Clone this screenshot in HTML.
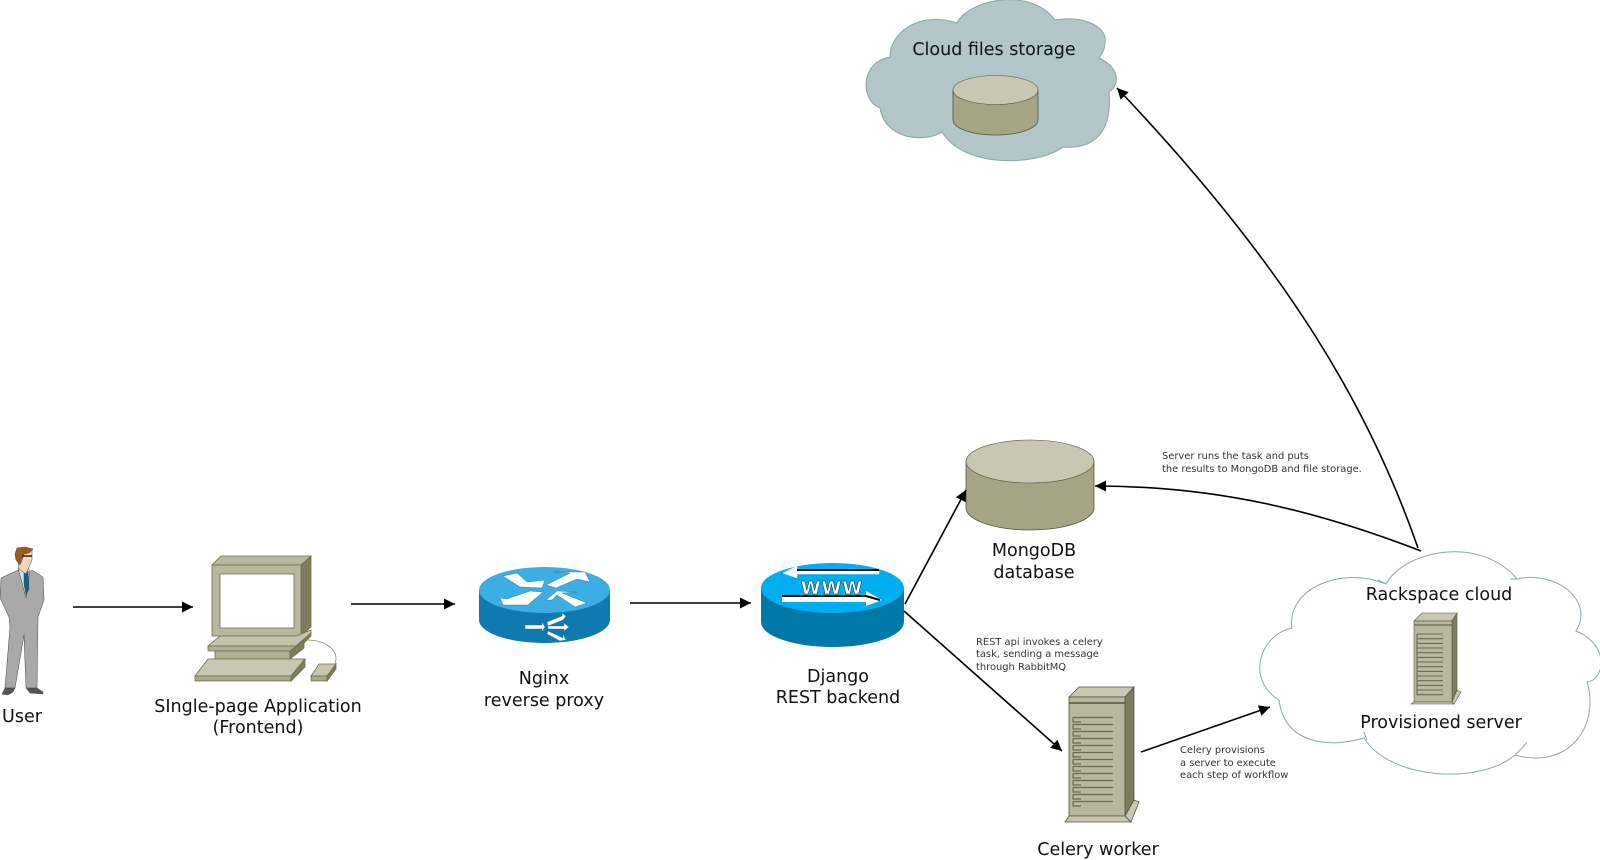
<!DOCTYPE html>
<html><head><meta charset="utf-8"><style>
html,body{margin:0;padding:0;background:#fff;width:1600px;height:860px;overflow:hidden}
svg{display:block}
text{font-family:"DejaVu Sans","Liberation Sans",sans-serif;fill:#111}
.l{font-size:17.5px;text-anchor:middle}
.s{font-size:9.9px;fill:#333}
.c{fill:none;stroke:#000;stroke-width:1.6}
</style></head><body>
<svg width="1600" height="860" viewBox="0 0 1600 860" xmlns="http://www.w3.org/2000/svg">
<defs>
<marker id="a" markerUnits="userSpaceOnUse" markerWidth="12" markerHeight="12" refX="11" refY="6" orient="auto"><path d="M0 .5L11 6L0 11.500z" fill="#000"/></marker>
</defs>

<!-- man -->
<g stroke="#444" stroke-width=".5">
<path d="M18 570L1 578L0 598L9 617L10 627L5 688H15L24 635L26 688H37L38 617L44 600L43 577L32 570L26 576Z" fill="#a9a9a9"/>
<path d="M18 568L26 598L30 570L26 566Z" fill="#cfe6f0"/>
<path d="M24 571H28L29 589L26 595L24 584Z" fill="#0b6485"/>
<path d="M17 555L19 569L26 574L29 567L32 560L32 550L20 552Z" fill="#f0d6b8"/>
<path d="M15 554L17 548L25 547L33 549L29 553L24 554L22 560L20 565L16 560Z" fill="#9a5a20"/>
<path d="M22 556H32" stroke="#222" stroke-width="1.500"/>
<path d="M2 694L5 688H15L13 692L8 695Z" fill="#555"/>
<path d="M26 688H37L43 692V694L30 693Z" fill="#555"/>
</g>
<text class="l" x="22" y="722">User</text>

<!-- computer -->
<g stroke="#6e6e52" stroke-width=".8">
<path d="M212 565L221 556H311L301 565Z" fill="#b8b89e"/>
<path d="M301 565L311 556V627L301 636Z" fill="#7d7d5e"/>
<rect x="212" y="565" width="89" height="71" fill="#b8b89e"/>
<rect x="220" y="574" width="74" height="54" fill="#fff"/>
<path d="M220 636H296L311 630V633L296 646H208Z" fill="#c4c4ac"/>
<path d="M208 646H296V651H208Z" fill="#b0b094"/>
<path d="M296 646L311 633V636L296 651Z" fill="#7d7d5e"/>
<rect x="215" y="651" width="75" height="8" fill="#b0b094"/>
<path d="M290 651L304 640V648L290 659Z" fill="#7d7d5e"/>
<path d="M195 676L208 659H305L291 676Z" fill="#c8c8b2"/>
<path d="M195 676H291V681H195Z" fill="#a9a98c"/>
<path d="M291 676L305 659V667L291 681Z" fill="#7d7d5e"/>
<path d="M311 676L319 664H336L327 676Z" fill="#c8c8b2"/>
<path d="M311 676H327V681H311Z" fill="#a9a98c"/>
<path d="M327 676L336 664V669L327 681Z" fill="#7d7d5e"/>
<path d="M307 640C325 640 340 650 335 664" fill="none" stroke="#8a8a70"/>
</g>
<text class="l" x="258" y="712">SIngle-page Application</text>
<text class="l" x="258" y="733">(Frontend)</text>

<!-- nginx router -->
<path d="M479 590V620A65.500 23 0 0 0 610 620V590Z" fill="#0f7ab0"/>
<ellipse cx="544.500" cy="590" rx="65.500" ry="23" fill="#3daee3"/>
<g fill="#fff" stroke="#1a6a90" stroke-width=".4">
<path d="M503 576L517 573L527 582L545 580L542 588L520 587Z"/>
<path d="M546 585L570 573L553 572L585 572L590 582L577 579L556 588Z"/>
<path d="M500 598L507 599L530 591L543 592L530 603L528 605L503 605Z"/>
<path d="M546 600L557 591L577 592L562 593L587 603L575 607L557 595L552 600Z"/>
<path d="M525 625H542V622L545 627L542 632V629H525Z"/>
<path d="M547 622L562 616V613L566 616L563 620L548 626Z"/>
<path d="M548 626H564V623L569 627L564 631V629H548Z"/>
<path d="M548 631L563 638V634L566 640L560 641L547 634Z"/>
</g>
<text class="l" x="544" y="684">Nginx</text>
<text class="l" x="544" y="706">reverse proxy</text>

<!-- django router -->
<path d="M761 588V622A71.500 25 0 0 0 904 622V588Z" fill="#0079a8"/>
<ellipse cx="832.500" cy="588" rx="71.500" ry="25" fill="#00aeef"/>
<path d="M879 571H797V566L783 573L797 578V574H879Z" fill="#fff" stroke="#fff" stroke-width=".5"/>
<path d="M879 570H797" stroke="#000" stroke-width="2"/>
<path d="M782 596H866V591L882 600L866 606V602H782Z" fill="#fff"/>
<path d="M782 596H866L880 600" stroke="#000" stroke-width="2" fill="none"/>
<text x="832" y="594" text-anchor="middle" style="font-size:18px;font-weight:bold;fill:#fff;stroke:#222;stroke-width:.5;letter-spacing:1px">WWW</text>
<text class="l" x="838" y="682">Django</text>
<text class="l" x="838" y="703">REST backend</text>

<!-- top cloud -->
<path d="M890 57C889 35 917 10 957 23C968 0 1030 -14 1055 20C1080 15 1108 25 1105 43C1105 48 1102 54 1099 58C1120 68 1120 85 1109 92C1112 125 1100 150 1063 147C1040 165 965 170 942 132C925 143 885 140 880 108C860 100 860 62 890 57Z" fill="#b2c6c9" stroke="#8aa4a8" stroke-width="1"/>
<path d="M953 90V120A42.500 15 0 0 0 1038 120V90Z" fill="#a5a585" stroke="#55553f" stroke-width=".8"/>
<ellipse cx="995.500" cy="90" rx="42.500" ry="14.500" fill="#c8c8b2" stroke="#55553f" stroke-width=".6"/>
<text class="l" x="994" y="55">Cloud files storage</text>

<!-- mongo -->
<path d="M966 461V508A64 22 0 0 0 1094 508V461Z" fill="#a5a585" stroke="#55553f" stroke-width=".8"/>
<ellipse cx="1030" cy="461.500" rx="64" ry="21.500" fill="#c8c8b2" stroke="#55553f" stroke-width=".6"/>
<text class="l" x="1034" y="556">MongoDB</text>
<text class="l" x="1034" y="578">database</text>

<!-- celery tower -->
<g stroke="#55553f" stroke-width=".8">
<path d="M1069 697L1079 687H1134L1125 697Z" fill="#c8c8b2"/>
<path d="M1125 697L1134 687V800L1125 816Z" fill="#7d7d5e"/>
<rect x="1069" y="697" width="56" height="119" fill="#b8b89e"/>
<path d="M1065 822L1069 816H1125L1131 822Z" fill="#c8c8b2"/>
<path d="M1125 816L1134 800L1139 802L1131 822Z" fill="#c8c8b2"/>
</g>
<path d="M1069 703H1125" stroke="#55553f" stroke-width="1.500"/>
<g fill="none" stroke="#6b6b50" stroke-width="1.200">
<path d="M1073 717.500H1113M1073 717.500V722H1081M1073 724.500H1113M1073 724.500V729H1081M1073 731.500H1113M1073 731.500V736H1081M1073 738.500H1113M1073 738.500V743H1081M1073 745.500H1113M1073 745.500V750H1081M1073 752.500H1113M1073 752.500V757H1081M1073 759.500H1113M1073 759.500V764H1081M1073 766.500H1113M1073 766.500V771H1081M1073 773.500H1113M1073 773.500V778H1081M1073 780.500H1113M1073 780.500V785H1081M1073 787.500H1113M1073 787.500V792H1081M1073 794.500H1113M1073 794.500V799H1081M1073 801.500H1113M1073 801.500V806H1081"/>
</g>
<text class="l" x="1098" y="855">Celery worker</text>

<!-- rack cloud -->
<g fill="#fff" stroke="#8aa8b0" stroke-width="1">
<path d="M1292 628C1286 590 1340 565 1386 584C1405 550 1480 535 1517 579C1555 570 1595 600 1576 631C1610 645 1605 680 1587 682C1600 725 1570 770 1515 755C1480 785 1390 780 1364 738C1330 748 1285 745 1279 700C1246 680 1259 635 1292 628Z"/>
</g>
<g fill="none" stroke="#8aa8b0" stroke-width="1">
<path d="M1378 580L1386 584M1510 579L1517 579M1527 742C1522 749 1518 752 1515 755M1364 732C1365 735 1366 738 1367 740"/>
</g>
<g stroke="#55553f" stroke-width=".6">
<path d="M1414 621L1422 613H1457L1452 621Z" fill="#c8c8b2"/>
<path d="M1452 621L1457 613V690L1452 702Z" fill="#7d7d5e"/>
<rect x="1414" y="621" width="38" height="81" fill="#b8b89e"/>
<path d="M1411 704L1414 702H1452L1454 704Z" fill="#c8c8b2"/>
<path d="M1452 702L1457 690L1461 692L1454 704Z" fill="#c8c8b2"/>
</g>
<path d="M1414 625H1452" stroke="#55553f" stroke-width="1"/>
<g fill="none" stroke="#6b6b50" stroke-width="1.100">
<path d="M1417 634H1443M1417 638.700H1443M1417 643.400H1443M1417 648H1443M1417 652.700H1443M1417 657.400H1443M1417 662H1443M1417 666.700H1443M1417 671.400H1443M1417 676H1443M1417 680.700H1443M1417 685.400H1443M1417 690H1443M1417 694.700H1443M1417 634V695"/>
</g>
<text class="l" x="1439" y="600">Rackspace cloud</text>
<text class="l" x="1441" y="728">Provisioned server</text>

<!-- connectors -->
<path class="c" d="M73 607H193" marker-end="url(#a)"/>
<path class="c" d="M351 604H455" marker-end="url(#a)"/>
<path class="c" d="M630 603H751" marker-end="url(#a)"/>
<path class="c" d="M905 604L966 490" marker-end="url(#a)"/>
<path class="c" d="M904 611L1062 751" marker-end="url(#a)"/>
<path class="c" d="M1141 752L1270 707" marker-end="url(#a)"/>
<path class="c" d="M1421 551C1320 512 1220 486 1095 486" marker-end="url(#a)"/>
<path class="c" d="M1418 548C1370 410 1290 270 1117 88" marker-end="url(#a)"/>

<!-- small labels -->
<text class="s" x="1162" y="459">Server runs the task and puts</text>
<text class="s" x="1162" y="472">the results to MongoDB and file storage.</text>
<text class="s" x="976" y="645">REST api invokes a celery</text>
<text class="s" x="976" y="657">task, sending a message</text>
<text class="s" x="976" y="670">through RabbitMQ</text>
<text class="s" x="1180" y="753">Celery provisions</text>
<text class="s" x="1180" y="766">a server to execute</text>
<text class="s" x="1180" y="778">each step of workflow</text>
</svg>
</body></html>
